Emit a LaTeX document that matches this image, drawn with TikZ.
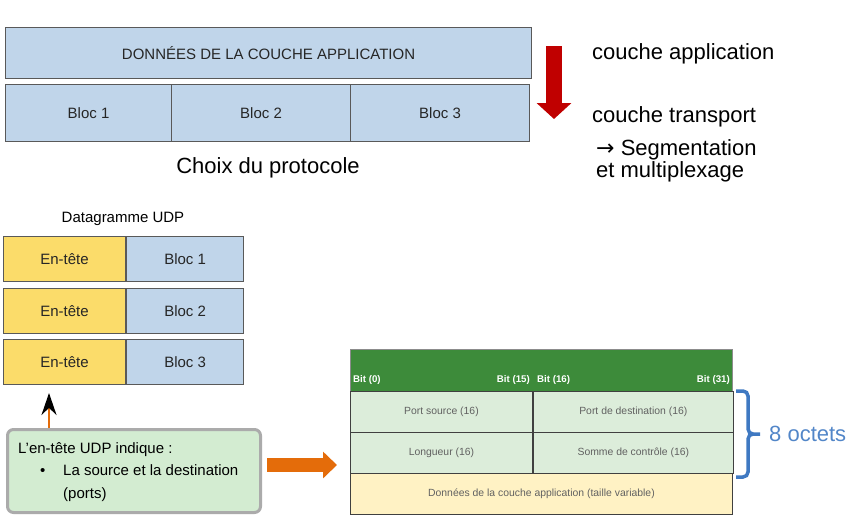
\documentclass[tikz,border=0pt]{standalone}
\usepackage{fontspec}
\setmainfont{Liberation Sans}
\newfontfamily\symbfont{DejaVu Sans}
\usepackage{tikz}
\usetikzlibrary{arrows.meta}

\definecolor{blocblue}{HTML}{C0D5EA}
\definecolor{hdryellow}{HTML}{FBDC6A}
\definecolor{bargreen}{HTML}{3D8B3A}
\definecolor{cellgreen}{HTML}{DCEDDA}
\definecolor{payyellow}{HTML}{FFF2C4}
\definecolor{notegreen}{HTML}{D3ECD1}
\definecolor{bracketblue}{HTML}{3F79C2}
\definecolor{arrowred}{HTML}{C00000}
\definecolor{arroworange}{HTML}{E46C0A}

\begin{document}
\begin{tikzpicture}[x=1pt, y=-1pt,
    blk/.style={draw=black!65, line width=1.1pt, fill=blocblue, anchor=north west, inner sep=0pt,
      text=black!85, font={\fontsize{15}{18}\selectfont}},
    hdr/.style={blk, fill=hdryellow},
    cell/.style={draw=black!75, line width=0.9pt, fill=cellgreen, anchor=north west, inner sep=0pt,
      minimum height=41pt, text=black!62, font={\fontsize{10.4}{12}\selectfont}},
    bitlbl/.style={text=white, inner sep=0pt, font={\fontsize{9.7}{11}\bfseries\selectfont}},
    big/.style={inner sep=0pt, font={\fontsize{22}{26}\selectfont}},
    notetxt/.style={inner sep=0pt, anchor=base west, font={\fontsize{15}{18}\selectfont}}]
  \useasboundingbox (0,0) rectangle (850,528);

  \node[blk, minimum width=526pt, minimum height=51pt] (app) at (5,27) {DONNÉES DE LA COUCHE APPLICATION};
  \foreach \i/\x/\w in {1/5/166, 2/171/179, 3/350/179}
    \node[blk, minimum width=\w pt, minimum height=57pt] (b\i) at (\x,84) {Bloc \i};

  \coordinate (down0) at (554,46); \coordinate (down1) at (554,119);
  \draw[arrowred, line width=16pt, -{Triangle[width=34pt, length=16pt]}] (down0) -- (down1);
  \node[big, anchor=base west] (capp) at (592,59) {couche application};
  \node[big, anchor=base west] (ctrans) at (592,122) {couche transport};
  \node[big, anchor=base west] (cseg) at (596,155) {{\symbfont →} Segmentation};
  \node[big, anchor=base west] (cmux) at (596,177) {et multiplexage};
  \node[big] (choix) at (268,168) {Choix du protocole};

  \node[inner sep=0pt, font={\fontsize{15}{18}\selectfont}] (dgram) at (123,219) {Datagramme UDP};
  \foreach \i/\y in {1/236, 2/288, 3/339} {
    \node[hdr, minimum width=122pt, minimum height=45pt] (h\i) at (3,\y) {En-tête};
    \node[blk, minimum width=117pt, minimum height=45pt] (d\i) at (h\i.north east) {Bloc \i};}

  \node[draw=black!33, line width=3pt, rounded corners=6pt, fill=notegreen, anchor=north west,
    minimum width=253pt, minimum height=83pt] (note) at (6,428) {};
  \node[notetxt] (n1) at (18,453) {L'en-tête UDP indique :};
  \node[notetxt] (n2) at (40,475) {•};
  \node[notetxt] (n3) at (63,475) {La source et la destination};
  \node[notetxt] (n4) at (63,498) {(ports)};

  \coordinate (hint) at (49,393);
  \draw[arroworange, line width=2.5pt, -{Stealth[black, width=15pt, length=22pt]}] (note.north -| hint) -- (hint);

  \coordinate (right0) at (267,465); \coordinate (right1) at (337,465);
  \draw[arroworange, line width=14pt, -{Triangle[width=26pt, length=14pt]}] (right0) -- (right1);

  \node[draw=black!45, line width=1pt, fill=bargreen, anchor=north west, minimum width=382pt, minimum height=42pt] (bits) at (350,349) {};
  \node[bitlbl, anchor=base west] (bit0) at (353,382) {Bit (0)};
  \node[bitlbl, anchor=base east] (bit15) at (530,382) {Bit (15)};
  \node[bitlbl, anchor=base west] (bit16) at (537,382) {Bit (16)};
  \node[bitlbl, anchor=base east] (bit31) at (730,382) {Bit (31)};
  \foreach \r/\y/\a/\b in {1/391/Port source (16)/Port de destination (16), 2/432/Longueur (16)/Somme de contrôle (16)} {
    \node[cell, minimum width=182pt] (l\r) at (350,\y) {\a};
    \node[cell, minimum width=200pt] (r\r) at (l\r.north east) {\b};}
  \node[cell, fill=payyellow, minimum width=382pt] (pay) at (350,473) {Données de la couche application (taille variable)};

  \draw[bracketblue, line width=3.5pt] (736,391) -- (743,391) to[out=0, in=90] (748,396) -- (748,429)
    to[out=-90, in=180] (753,434) -- (760,434);
  \draw[bracketblue, line width=3.5pt] (736,477) -- (743,477) to[out=0, in=-90] (748,472) -- (748,439)
    to[out=90, in=180] (753,434);
  \node[inner sep=0pt, anchor=west, text=bracketblue!90!white, font={\fontsize{22}{26}\selectfont}] (oct) at (769,434) {8 octets};
\end{tikzpicture}
\end{document}
